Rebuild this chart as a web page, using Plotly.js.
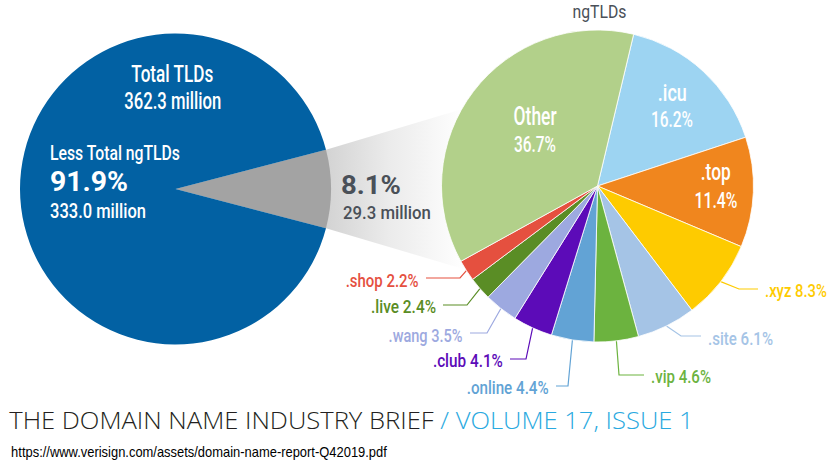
<!DOCTYPE html>
<html><head><meta charset="utf-8">
<script src="https://cdn.plot.ly/plotly-3.0.1.min.js"></script>
<style>html,body{margin:0;padding:0;background:#fff}#chart{width:830px;height:471px}</style>
</head><body><div id="chart"></div>
<script>
// ---------------- data ----------------
const totalLabels = ['ngTLDs', 'Less Total ngTLDs'];
const totalShares = [8.1, 91.9];
const totalMillions = [29.3, 333.0];
const totalAllLabel = 'Total TLDs';
const totalAllMillions = 362.3;

const ngLabels = ['.icu', '.top', '.xyz', '.site', '.vip', '.online', '.club', '.wang', '.live', '.shop', 'Other'];
const ngShares = [16.2, 11.4, 8.3, 6.1, 4.6, 4.4, 4.1, 3.5, 2.4, 2.2, 36.7];

const footerTitle = 'THE DOMAIN NAME INDUSTRY BRIEF';
const footerIssue = ' / VOLUME 17, ISSUE 1';
const sourceUrl = 'https://www.verisign.com/assets/domain-name-report-Q42019.pdf';

// ---------------- styles / layout ----------------
const totalColors = ['#a3a3a3', '#0261a3'];
const ngColors = ['#9dd4f2', '#f0861e', '#fecb00', '#a5c4e6', '#6cb33f', '#62a3d5', '#5c0bb8', '#9da9e0', '#5a8d25', '#e5503f', '#b2d08a'];
const W = 830, H = 471;
const FONT = 'Roboto, "Liberation Sans", sans-serif';
const DARK = '#4a5058';

const leftPie = {cx: 175.5, cy: 189, r: 155.5};
const rightPie = {cx: 597.5, cy: 186, r: 156};
const ngRotation = 13.4;
const totalRotation = 90 - totalShares[0] / 100 * 180;

// callouts: elbow point, end of horizontal line, label side, label width, label centre y
const callouts = {
  '.xyz':    {elbow: [739, 289], end: 758, side: 'right', w: 62, y: 290},
  '.site':   {elbow: [681, 336], end: 701, side: 'right', w: 65, y: 338},
  '.vip':    {elbow: [619, 375], end: 644, side: 'right', w: 60, y: 376},
  '.online': {elbow: [568, 386], end: 556, side: 'left',  w: 82, y: 387},
  '.club':   {elbow: [526, 359], end: 510, side: 'left',  w: 70, y: 360},
  '.wang':   {elbow: [487, 333], end: 470, side: 'left',  w: 74, y: 335},
  '.live':   {elbow: [467, 305], end: 443, side: 'left',  w: 65, y: 306},
  '.shop':   {elbow: [460, 278], end: 426, side: 'left',  w: 73, y: 280}
};
// inside labels: centre x, name baseline/size/width, value baseline/size/width
const insideLabels = {
  'Other': {x: 535, b1: 125, s1: 26, w1: 43, b2: 152, s2: 22, w2: 42},
  '.icu':  {x: 672, b1: 101, s1: 24, w1: 29, b2: 127.5, s2: 22, w2: 42},
  '.top':  {x: 716, b1: 180.5, s1: 24, w1: 30, b2: 208.5, s2: 22, w2: 43}
};

function dom(p) {
  return {x: [(p.cx - p.r) / W, (p.cx + p.r) / W], y: [1 - (p.cy + p.r) / H, 1 - (p.cy - p.r) / H]};
}
function edgePoint(p, deg) {
  const a = deg * Math.PI / 180;
  return [p.cx + p.r * Math.sin(a), p.cy - p.r * Math.cos(a)];
}

const traces = [];
const annotations = [];
const fitWidths = [];
// add a text whose baseline sits at `base`; optionally condensed/stretched to `fit` px wide
function addText(text, x, base, size, anchor, color, fit, extra) {
  const asc = (extra && extra.asc) || 0.342;
  annotations.push(Object.assign({
    xref: 'x', yref: 'y', x: x, y: base - asc * size, xanchor: anchor, yanchor: 'middle',
    showarrow: false, borderpad: 0, text: text,
    font: {family: FONT, size: size, color: color, weight: (extra && extra.weight) || 500}
  }, extra && extra.opts ? extra.opts : {}));
  fitWidths.push(fit || null);
}

// funnel from grey wedge to ngTLD pie
const wedgeTop = edgePoint(leftPie, totalRotation);
const wedgeBot = edgePoint(leftPie, totalRotation + totalShares[0] / 100 * 360);
const funTop = edgePoint(rightPie, 299.5);
const funBot = edgePoint(rightPie, 237.5);
traces.push({
  type: 'scatter', mode: 'none',
  x: [leftPie.cx, wedgeTop[0], funTop[0], rightPie.cx, funBot[0], wedgeBot[0], leftPie.cx],
  y: [leftPie.cy, wedgeTop[1], funTop[1], rightPie.cy, funBot[1], wedgeBot[1], leftPie.cy],
  fill: 'toself',
  fillgradient: {type: 'horizontal', start: 326, stop: 465,
    colorscale: [[0, '#d3d3d3'], [0.45, '#ebebeb'], [1, '#ffffff']]},
  hoverinfo: 'skip', showlegend: false
});

// leader lines + labels
const ngTotal = ngShares.reduce((a, b) => a + b, 0);
let cum = 0;
ngLabels.forEach((lab, i) => {
  const mid = ngRotation + (cum + ngShares[i] / 2) / ngTotal * 360;
  cum += ngShares[i];
  const pct = ngShares[i].toFixed(1) + '%';
  const c = callouts[lab];
  if (c) {
    const e = edgePoint(rightPie, mid);
    traces.push({
      type: 'scatter', mode: 'lines',
      x: [e[0], c.elbow[0], c.end], y: [e[1], c.elbow[1], c.elbow[1]],
      line: {color: ngColors[i], width: 1.2}, hoverinfo: 'skip', showlegend: false
    });
    addText(lab + ' ' + pct, c.side === 'right' ? c.end + 6 : c.end - 6, c.y + 6.5, 19,
      c.side === 'right' ? 'left' : 'right', ngColors[i], c.w);
  }
  const il = insideLabels[lab];
  if (il) {
    addText(lab, il.x, il.b1, il.s1, 'center', '#ffffff', il.w1);
    addText(pct, il.x, il.b2, il.s2, 'center', '#ffffff', il.w2);
  }
});

// pies
traces.push({
  type: 'pie', values: totalShares, labels: totalLabels, sort: false, direction: 'clockwise',
  rotation: totalRotation, marker: {colors: totalColors, line: {width: 0}},
  textinfo: 'none', textposition: 'none', hoverinfo: 'skip', showlegend: false, domain: dom(leftPie)
});
traces.push({
  type: 'pie', values: ngShares, labels: ngLabels, sort: false, direction: 'clockwise',
  rotation: ngRotation, marker: {colors: ngColors, line: {width: 0.8, color: '#ffffff'}},
  textinfo: 'none', textposition: 'none', hoverinfo: 'skip', showlegend: false, domain: dom(rightPie)
});

// left pie / funnel texts
addText(totalAllLabel, 172.5, 82, 24, 'center', '#ffffff', 82);
addText(totalAllMillions.toFixed(1) + ' million', 173, 109.5, 24, 'center', '#ffffff', 97);
addText(totalLabels[1], 49, 160.5, 19.5, 'left', '#ffffff', 130);
addText('<b>' + totalShares[1].toFixed(1) + '%</b>', 48.5, 190.5, 27.5, 'left', '#ffffff', 78);
addText(totalMillions[1].toFixed(1) + ' million', 49, 217.5, 20, 'left', '#ffffff', 96);
addText('<b>' + totalShares[0].toFixed(1) + '%</b>', 340, 194, 25, 'left', DARK, 60);
addText(totalMillions[0].toFixed(1) + ' million', 341.5, 218.5, 19, 'left', DARK, 88);
addText(totalLabels[0], 599, 17.7, 19, 'center', DARK, 54, {weight: 400});

// footer
addText('<span style="color:#231f20">' + footerTitle + '</span><span style="color:#29a9e0">' + footerIssue + '</span>',
  8, 429.3, 23.5, 'left', '#231f20', 685,
  {asc: 0.388, opts: {font: {family: '"Open Sans", Roboto, sans-serif', size: 23.5, weight: 300, color: '#231f20'}}});
addText(sourceUrl, 10, 457.3, 14, 'left', '#000000', 376,
  {asc: 0.346, opts: {font: {family: '"Liberation Sans", Arial, sans-serif', size: 14, color: '#000000'}}});

const layout = {
  width: W, height: H, margin: {l: 0, r: 0, t: 0, b: 0},
  paper_bgcolor: '#ffffff', plot_bgcolor: 'rgba(0,0,0,0)',
  xaxis: {range: [0, W], visible: false, fixedrange: true, domain: [0, 1]},
  yaxis: {range: [H, 0], visible: false, fixedrange: true, domain: [0, 1]},
  showlegend: false, hovermode: false, annotations: annotations
};

Plotly.newPlot('chart', traces, layout, {staticPlot: true, displayModeBar: false}).then(function (gd) {
  // condense / stretch texts horizontally to the widths of the original typeface
  const groups = gd.querySelectorAll('g.annotation');
  groups.forEach(function (g, k) {
    const idx = g.hasAttribute('data-index') ? +g.getAttribute('data-index') : k;
    const target = fitWidths[idx];
    if (!target) return;
    const t = g.querySelector('text.annotation-text') || g.querySelector('text');
    if (!t) return;
    const w = t.getBBox().width;
    if (!w) return;
    const ax = annotations[idx].xanchor;
    t.style.transformBox = 'fill-box';
    t.style.transformOrigin = (ax === 'left' ? 'left' : ax === 'right' ? 'right' : 'center') + ' center';
    t.style.transform = 'scaleX(' + (target / w).toFixed(4) + ')';
  });
});
</script>
</body></html>
